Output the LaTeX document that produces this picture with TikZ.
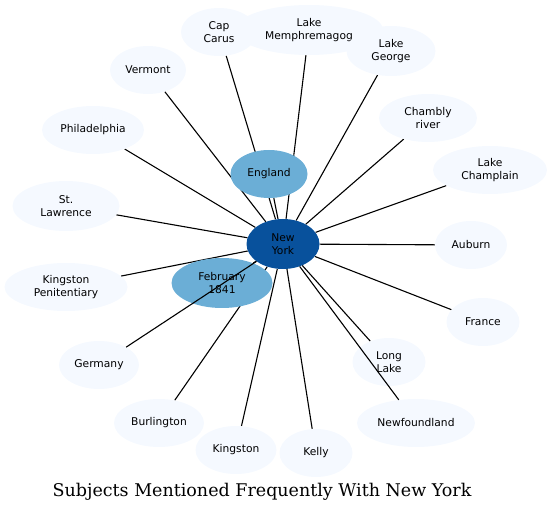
\documentclass[tikz,border=0pt]{standalone}
\usepackage{fontspec}
\setmainfont{DejaVu Serif}
\newfontfamily\nodefont{DejaVu Sans}
\usetikzlibrary{shapes.geometric,backgrounds}
\definecolor{leaf}{HTML}{F5F9FF}
\definecolor{mid}{HTML}{6BAED6}
\definecolor{hub}{HTML}{08519C}
\tikzset{
  nd/.style={ellipse, inner sep=0pt, align=center, font=\nodefont\fontsize{10.7}{12.5}\selectfont, text=black},
  leafnode/.style={nd, fill=leaf},
  midnode/.style={nd, fill=mid},
  hubnode/.style={nd, fill=hub},
  edge/.style={draw=black, line width=1.1pt},
}
\begin{document}
\begin{tikzpicture}[x=1pt,y=-1pt]
\useasboundingbox (0,0) rectangle (552,513);
% leaf nodes
\node[leafnode, minimum width=76, minimum height=48] (capcarus) at (219,32) {Cap\\Carus};
\node[leafnode, minimum width=148, minimum height=50] (memph) at (309,30) {Lake\\Memphremagog};
\node[leafnode, minimum width=89, minimum height=50] (george) at (391,51) {Lake\\George};
\node[leafnode, minimum width=76, minimum height=48] (vermont) at (148,70) {Vermont};
\node[leafnode, minimum width=102, minimum height=48] (phila) at (93,130) {Philadelphia};
\node[leafnode, minimum width=107, minimum height=50] (stlaw) at (66,206) {St.\\Lawrence};
\node[leafnode, minimum width=123, minimum height=48] (kpen) at (66,287) {Kingston\\Penitentiary};
\node[leafnode, minimum width=80, minimum height=48] (germany) at (99,365) {Germany};
\node[leafnode, minimum width=90, minimum height=48] (burl) at (159,423) {Burlington};
\node[leafnode, minimum width=81, minimum height=48] (kingston) at (236,450) {Kingston};
\node[leafnode, minimum width=73, minimum height=48] (kelly) at (316,453) {Kelly};
\node[leafnode, minimum width=118, minimum height=48] (newf) at (416,423) {Newfoundland};
\node[leafnode, minimum width=73, minimum height=48] (longlake) at (389,362) {Long\\Lake};
\node[leafnode, minimum width=73, minimum height=48] (france) at (483,322) {France};
\node[leafnode, minimum width=72, minimum height=48] (auburn) at (471,245) {Auburn};
\node[leafnode, minimum width=114, minimum height=48] (champlain) at (490,170) {Lake\\Champlain};
\node[leafnode, minimum width=98, minimum height=48] (chambly) at (428,118) {Chambly\\river};
% inner nodes
\node[midnode, minimum width=77, minimum height=48] (england) at (269,174) {England};
\node[midnode, minimum width=101, minimum height=50] (feb) at (222,283) {February\\1841};
\node[hubnode, minimum width=73, minimum height=50] (ny) at (283,244) {New\\York};
% edges behind nodes
\begin{pgfonlayer}{background}
\foreach \n in {capcarus,memph,george,vermont,phila,stlaw,kpen,burl,kingston,kelly,longlake,france,auburn,champlain,chambly,england,feb}
  \draw[edge] (ny) -- (\n);
\end{pgfonlayer}
% edges drawn over other nodes
\draw[edge] (ny) -- (germany);
\draw[edge] (ny) -- (newf);
% title
\node[font=\fontsize{17.5}{20}\selectfont] (title) at (262,492) {Subjects Mentioned Frequently With New York};
\end{tikzpicture}
\end{document}
